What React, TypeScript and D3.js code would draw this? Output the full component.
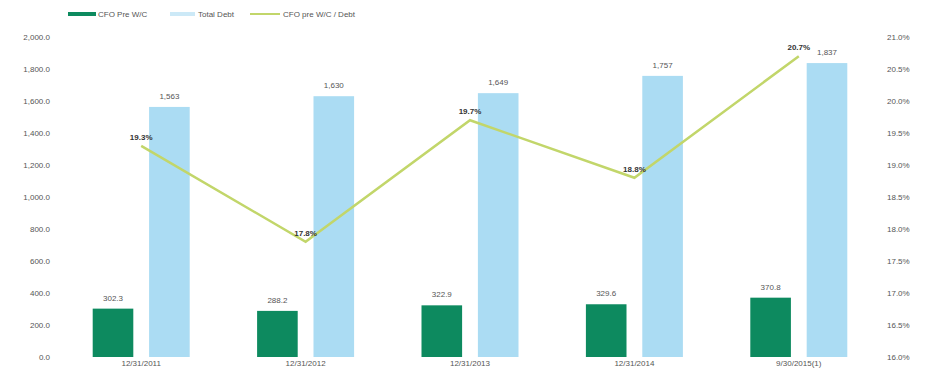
import React from "react";
import * as d3 from "d3";

const categories = ["12/31/2011", "12/31/2012", "12/31/2013", "12/31/2014", "9/30/2015(1)"];
const cfoValues = [302.3, 288.2, 322.9, 329.6, 370.8];
const debtValues = [1563, 1630, 1649, 1757, 1837];
const ratioValues = [19.3, 17.8, 19.7, 18.8, 20.7];
const leftTicks = [0, 200, 400, 600, 800, 1000, 1200, 1400, 1600, 1800, 2000];
const rightTicks = [16.0, 16.5, 17.0, 17.5, 18.0, 18.5, 19.0, 19.5, 20.0, 20.5, 21.0];
const seriesNames = ["CFO Pre W/C", "Total Debt", "CFO pre W/C / Debt"];

const W = 927;
const H = 371;
const GREEN = "#0d8a5f";
const BLUE = "#abdcf3";
const LINE = "#c2d66a";
const TEXT = "#555";
const FONT = "'Liberation Sans', Arial, sans-serif";

export default function App() {
  const plotLeft = 59;
  const plotRight = 881;
  const top = 37;
  const bottom = 357;

  const x = d3.scaleBand<string>().domain(categories).range([plotLeft, plotRight]).paddingInner(0).paddingOuter(0);
  const inner = d3.scaleBand<string>().domain(["cfo", "debt"]).range([0, 97]).paddingInner(0.28);
  const groupOffset = (x.bandwidth() - 97) / 2;
  const yL = d3.scaleLinear().domain([0, 2000]).range([bottom, top]);
  const yR = d3.scaleLinear().domain([16, 21]).range([bottom, top]);

  const fmtL = d3.format(",.1f");
  const fmtDebt = d3.format(",.0f");
  const lineGen = d3
    .line<number>()
    .x((_, i) => (x(categories[i]) as number) + x.bandwidth() / 2)
    .y((d) => yR(d));

  return (
    <svg width={W} height={H} style={{ position: "absolute", left: 0, top: 0, background: "#fff" }} fontFamily={FONT}>
      {/* legend */}
      <g fontSize={8} fill={TEXT}>
        <line x1={68} x2={96} y1={14} y2={14} stroke={GREEN} strokeWidth={4} />
        <text x={98} y={17}>{seriesNames[0]}</text>
        <line x1={170} x2={195} y1={14} y2={14} stroke={BLUE} strokeWidth={4} opacity={0.6} />
        <text x={198} y={17}>{seriesNames[1]}</text>
        <line x1={250} x2={280} y1={14} y2={14} stroke={LINE} strokeWidth={2} />
        <text x={283} y={17}>{seriesNames[2]}</text>
      </g>

      {/* left axis */}
      <g fontSize={8} fill={TEXT} textAnchor="end">
        {leftTicks.map((t) => (
          <text key={t} x={50} y={yL(t)} dy="0.35em">
            {fmtL(t)}
          </text>
        ))}
      </g>

      {/* right axis */}
      <g fontSize={8} fill={TEXT} textAnchor="start">
        {rightTicks.map((t) => (
          <text key={t} x={887} y={yR(t)} dy="0.35em">
            {t.toFixed(1)}%
          </text>
        ))}
      </g>

      {/* bars */}
      {categories.map((c, i) => {
        const gx = (x(c) as number) + groupOffset;
        const cx = gx + (inner("cfo") as number);
        const dx = gx + (inner("debt") as number);
        const bw = inner.bandwidth();
        return (
          <g key={c}>
            <rect x={cx} y={yL(cfoValues[i])} width={bw} height={bottom - yL(cfoValues[i])} fill={GREEN} />
            <rect x={dx} y={yL(debtValues[i])} width={bw} height={bottom - yL(debtValues[i])} fill={BLUE} />
            <text x={cx + bw / 2} y={yL(cfoValues[i]) - 8} fontSize={8} fill={TEXT} textAnchor="middle">
              {cfoValues[i].toFixed(1)}
            </text>
            <text x={dx + bw / 2} y={yL(debtValues[i]) - 8} fontSize={8} fill={TEXT} textAnchor="middle">
              {fmtDebt(debtValues[i])}
            </text>
            <text x={(x(c) as number) + x.bandwidth() / 2} y={366} fontSize={8} fill={TEXT} textAnchor="middle">
              {c}
            </text>
          </g>
        );
      })}

      {/* line */}
      <path d={lineGen(ratioValues) || ""} fill="none" stroke={LINE} strokeWidth={2.5} />
      {ratioValues.map((v, i) => (
        <text
          key={i}
          x={(x(categories[i]) as number) + x.bandwidth() / 2}
          y={yR(v) - 6}
          fontSize={8}
          fontWeight="bold"
          fill="#333"
          textAnchor="middle"
        >
          {v.toFixed(1)}%
        </text>
      ))}
    </svg>
  );
}
